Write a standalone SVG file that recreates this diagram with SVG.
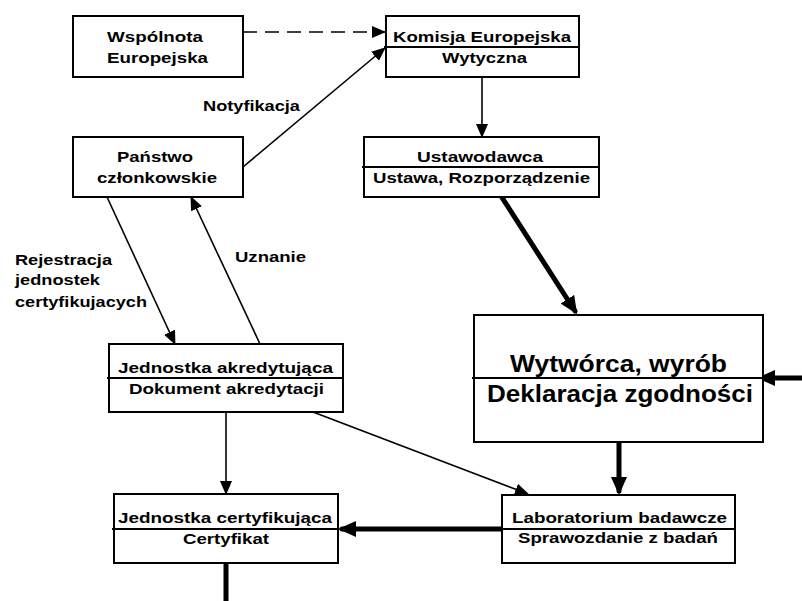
<svg xmlns="http://www.w3.org/2000/svg" width="802" height="601" viewBox="0 0 802 601">
<style>
.box{fill:#fff;stroke:#000;stroke-width:2}
.div{stroke:#000;stroke-width:2}
text{font-family:"Liberation Sans",Arial,sans-serif;font-weight:bold;font-size:15px;fill:#000}
.big{font-size:23px}
.thin{stroke:#000;stroke-width:1.6;fill:none}
.thick{stroke:#000;stroke-width:5;fill:none;stroke-linecap:round}
</style>
<defs>
<marker id="ah" markerUnits="userSpaceOnUse" markerWidth="14" markerHeight="12" refX="13" refY="6" orient="auto"><path d="M0,0 L14,6 L0,12 z" fill="#000"/></marker>
<marker id="ahb" markerUnits="userSpaceOnUse" markerWidth="18" markerHeight="16" refX="14" refY="8" orient="auto"><path d="M0,0 L18,8 L0,16 z" fill="#000"/></marker>
</defs>
<rect width="802" height="601" fill="#fff"/>
<g id="connectors">
<line class="thin" x1="243" y1="32" x2="385" y2="32" stroke-dasharray="14,8" marker-end="url(#ah)"/>
<line class="thin" x1="243" y1="167" x2="385" y2="48" marker-end="url(#ah)"/>
<line class="thin" x1="482" y1="77" x2="482" y2="137" marker-end="url(#ah)"/>
<line class="thin" x1="107" y1="197" x2="175" y2="344" marker-end="url(#ah)"/>
<line class="thin" x1="260" y1="344" x2="191" y2="197" marker-end="url(#ah)"/>
<line class="thin" x1="226" y1="412" x2="226" y2="494" marker-end="url(#ah)"/>
<line class="thin" x1="313" y1="412" x2="528" y2="494" marker-end="url(#ah)"/>
<line class="thick" x1="501" y1="196" x2="575" y2="311" marker-end="url(#ahb)"/>
<line class="thick" x1="806" y1="378" x2="761" y2="378" marker-end="url(#ahb)"/>
<line class="thick" x1="619" y1="442" x2="619" y2="491" marker-end="url(#ahb)"/>
<line class="thick" x1="502" y1="529" x2="342" y2="529" marker-end="url(#ahb)"/>
<line class="thick" x1="226" y1="562" x2="226" y2="605"/>
</g>
<g id="wspolnota">
<rect class="box" x="73" y="16" width="170" height="61"/>
<text x="107" y="42" textLength="96" lengthAdjust="spacingAndGlyphs">Wspólnota</text>
<text x="107" y="63" textLength="101" lengthAdjust="spacingAndGlyphs">Europejska</text>
</g>
<g id="komisja">
<rect class="box" x="386" y="16" width="193" height="61"/>
<line class="div" x1="384" y1="47" x2="579" y2="47"/>
<text x="393" y="42" textLength="178" lengthAdjust="spacingAndGlyphs">Komisja Europejska</text>
<text x="442" y="63" textLength="85" lengthAdjust="spacingAndGlyphs">Wytyczna</text>
</g>
<g id="ustawodawca">
<rect class="box" x="364" y="137" width="235" height="60"/>
<line class="div" x1="362" y1="167" x2="599" y2="167"/>
<text x="417" y="162" textLength="126" lengthAdjust="spacingAndGlyphs">Ustawodawca</text>
<text x="373" y="183" textLength="217" lengthAdjust="spacingAndGlyphs">Ustawa, Rozporządzenie</text>
</g>
<g id="panstwo">
<rect class="box" x="73" y="137" width="170" height="60"/>
<text x="117" y="162" textLength="76" lengthAdjust="spacingAndGlyphs">Państwo</text>
<text x="97" y="183" textLength="120" lengthAdjust="spacingAndGlyphs">członkowskie</text>
</g>
<g id="labels">
<text x="203" y="111" textLength="97" lengthAdjust="spacingAndGlyphs">Notyfikacja</text>
<text x="235" y="262" textLength="71" lengthAdjust="spacingAndGlyphs">Uznanie</text>
<text x="15" y="265" textLength="97" lengthAdjust="spacingAndGlyphs">Rejestracja</text>
<text x="15" y="285" textLength="85" lengthAdjust="spacingAndGlyphs">jednostek</text>
<text x="15" y="307" textLength="132" lengthAdjust="spacingAndGlyphs">certyfikujacych</text>
</g>
<g id="akredytujaca">
<rect class="box" x="109" y="344" width="234" height="68"/>
<line class="div" x1="107" y1="378" x2="343" y2="378"/>
<text x="118" y="373" textLength="215" lengthAdjust="spacingAndGlyphs">Jednostka akredytująca</text>
<text x="129" y="394" textLength="195" lengthAdjust="spacingAndGlyphs">Dokument akredytacji</text>
</g>
<g id="wytworca">
<rect class="box" x="474" y="315" width="289" height="127"/>
<line class="div" x1="472" y1="378" x2="763" y2="378"/>
<text class="big" x="510" y="372" textLength="217" lengthAdjust="spacingAndGlyphs">Wytwórca, wyrób</text>
<text class="big" x="487" y="402" textLength="266" lengthAdjust="spacingAndGlyphs">Deklaracja zgodności</text>
</g>
<g id="laboratorium">
<rect class="box" x="502" y="495" width="233" height="68"/>
<line class="div" x1="500" y1="529" x2="735" y2="529"/>
<text x="512" y="523" textLength="215" lengthAdjust="spacingAndGlyphs">Laboratorium badawcze</text>
<text x="518" y="543" textLength="200" lengthAdjust="spacingAndGlyphs">Sprawozdanie z badań</text>
</g>
<g id="certyfikujaca">
<rect class="box" x="114" y="494" width="224" height="69"/>
<line class="div" x1="112" y1="529" x2="338" y2="529"/>
<text x="118" y="523" textLength="214" lengthAdjust="spacingAndGlyphs">Jednostka certyfikująca</text>
<text x="183" y="544" textLength="86" lengthAdjust="spacingAndGlyphs">Certyfikat</text>
</g>
</svg>
